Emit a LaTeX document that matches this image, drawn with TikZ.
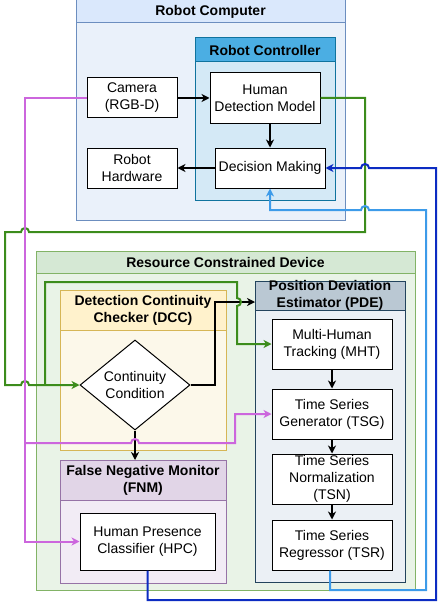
\documentclass[tikz,border=0pt]{standalone}
\usepackage{fontspec}
\setmainfont{Liberation Sans}
\usetikzlibrary{shapes.geometric,arrows.meta}
\definecolor{rcHead}{HTML}{DAE8FC}
\definecolor{rcBody}{HTML}{EAF1FA}
\definecolor{rcStroke}{HTML}{6C8EBF}
\definecolor{ctlHead}{HTML}{4BAEE3}
\definecolor{ctlBody}{HTML}{D4E9F6}
\definecolor{ctlStroke}{HTML}{10739E}
\definecolor{rcdHead}{HTML}{D5E8D4}
\definecolor{rcdBody}{HTML}{E9F3E7}
\definecolor{rcdStroke}{HTML}{82B366}
\definecolor{dccHead}{HTML}{FFF2CC}
\definecolor{dccBody}{HTML}{FCF8EA}
\definecolor{dccStroke}{HTML}{D6B656}
\definecolor{fnmHead}{HTML}{E1D5E7}
\definecolor{fnmBody}{HTML}{F2ECF5}
\definecolor{fnmStroke}{HTML}{9673A6}
\definecolor{pdeHead}{HTML}{BAC8D3}
\definecolor{pdeBody}{HTML}{EBF0F5}
\definecolor{pdeStroke}{HTML}{23445D}
\definecolor{cGreen}{HTML}{3C8C1C}
\definecolor{cPurple}{HTML}{CC66DD}
\definecolor{cLBlue}{HTML}{3D9BE9}
\definecolor{cDBlue}{HTML}{0C2CC2}
\tikzset{
  box/.style={draw=black, fill=white, line width=1pt, align=center, inner sep=1pt,
    font=\fontsize{14}{17}\selectfont},
  hdr/.style={align=center, inner sep=0pt, font=\bfseries\fontsize{14}{17}\selectfont},
  tip/.style={-{Stealth[length=8pt,width=8pt,inset=2.5pt]}},
  bline/.style={draw=black, line width=2pt, tip},
  gline/.style={draw=cGreen, line width=2pt},
  pline/.style={draw=cPurple, line width=2pt},
  lbline/.style={draw=cLBlue, line width=2pt},
  dbline/.style={draw=cDBlue, line width=2pt},
  hop/.style={radius=4pt}
}
\begin{document}
\begin{tikzpicture}[x=1pt,y=-1pt]
\useasboundingbox (0,0) rectangle (441,607);
% Robot Computer
\fill[rcBody] (76,0) rectangle (345,220);
\fill[rcHead] (76,0) rectangle (345,23);
\draw[rcStroke, line width=1pt] (76,0) rectangle (345,220) (76,23) -- (345,23);
\node[hdr] (rchdr) at (210.5,12) {Robot Computer};
% Robot Controller
\fill[ctlBody] (195,38) rectangle (335,200);
\fill[ctlHead] (195,38) rectangle (335,62);
\draw[ctlStroke, line width=1pt] (195,38) rectangle (335,200) (195,62) -- (335,62);
\node[hdr] (ctlhdr) at (265,50) {Robot Controller};
% Resource Constrained Device
\fill[rcdBody] (36,251) rectangle (415,590);
\fill[rcdHead] (36,251) rectangle (415,273);
\draw[rcdStroke, line width=1pt] (36,251) rectangle (415,590) (36,273) -- (415,273);
\node[hdr] (rcdhdr) at (225.5,262) {Resource Constrained Device};
% DCC
\fill[dccBody] (60,290) rectangle (226,450);
\fill[dccHead] (60,290) rectangle (226,330);
\draw[dccStroke, line width=1pt] (60,290) rectangle (226,450) (60,330) -- (226,330);
\node[hdr] (dcchdr) at (143,310) {Detection Continuity\\Checker (DCC)};
% FNM
\fill[fnmBody] (60,460) rectangle (226,583);
\fill[fnmHead] (60,460) rectangle (226,500);
\draw[fnmStroke, line width=1pt] (60,460) rectangle (226,583) (60,500) -- (226,500);
\node[hdr] (fnmhdr) at (143,480) {False Negative Monitor\\(FNM)};
\coordinate (fnmin) at (135,460);
% PDE
\fill[pdeBody] (255,281) rectangle (405,582);
\fill[pdeHead] (255,281) rectangle (405,310);
\draw[pdeStroke, line width=1pt] (255,281) rectangle (405,582) (255,310) -- (405,310);
\node[hdr] (pdehdr) at (330,295.5) {Position Deviation\\Estimator (PDE)};
\coordinate (pdein) at (255,302);
% boxes
\node[box, minimum width=90pt, minimum height=40pt] (cam) at (132,98) {Camera\\(RGB-D)};
\node[box, minimum width=90pt, minimum height=40pt] (hw) at (132,168) {Robot\\Hardware};
\node[box, minimum width=110pt, minimum height=50pt] (hdm) at (265,98) {Human\\Detection Model};
\node[box, minimum width=110pt, minimum height=40pt] (dm) at (270,168) {Decision Making};
\node[box, diamond, aspect=1.22, inner sep=0pt, minimum width=110pt, minimum height=90pt] (cond) at (135,385) {Continuity\\Condition};
\node[box, minimum width=135pt, minimum height=57pt] (hpc) at (147.5,541.5) {Human Presence\\Classifier (HPC)};
\node[box, minimum width=120pt, minimum height=50pt] (mht) at (332,344) {Multi-Human\\Tracking (MHT)};
\node[box, minimum width=120pt, minimum height=50pt] (tsg) at (332,414) {Time Series\\Generator (TSG)};
\node[box, minimum width=120pt, minimum height=50pt] (tsn) at (332,479) {Time Series\\Normalization\\(TSN)};
\node[box, minimum width=120pt, minimum height=50pt] (tsr) at (332,545) {Time Series\\Regressor (TSR)};
% black arrows
\draw[bline] (cam) -- (hdm.west |- cam);
\draw[bline] (hdm.south -| dm) -- (dm.north);
\draw[bline] (dm.west) -- (hw.east);
\draw[bline] (cond.south) -- (fnmin);
\draw[tip, draw=black, line width=2pt] (cond.east) -- (215,385) -- (215,302) -- (pdein);
\draw[bline] (mht) -- (tsg);
\draw[bline] (tsg) -- (tsn);
\draw[bline] (tsn) -- (tsr);
% green
\draw[gline, tip] (hdm.east) -- (365,98) -- (365,232) -- (29,232)
  arc[start angle=0, end angle=180, hop] -- (5,232) -- (5,385) -- (21,385)
  arc[start angle=180, end angle=0, hop] -- (cond.west);
\draw[gline, tip] (45,385) -- (45,282) -- (237,282) -- (237,298)
  arc[start angle=90, end angle=-90, hop] -- (237,344) -- (mht.west);
% purple
\draw[pline, tip] (cam.west) -- (25,98) -- (25,541.5) -- (hpc.west);
\draw[pline, tip] (25,443) -- (131,443)
  arc[start angle=180, end angle=0, hop] -- (235,443) -- (235,414) -- (tsg.west);
% light blue
\draw[lbline, tip] ([xshift=-2pt]tsr.south) -- (330,590) -- (426,590) -- (426,210) -- (369,210)
  arc[start angle=0, end angle=180, hop] -- (270,210) -- (dm.south);
% dark blue
\draw[dbline, tip] (hpc.south) -- (147.5,600) -- (436,600) -- (436,168) -- (369,168)
  arc[start angle=0, end angle=180, hop] -- (dm.east);
\end{tikzpicture}
\end{document}
